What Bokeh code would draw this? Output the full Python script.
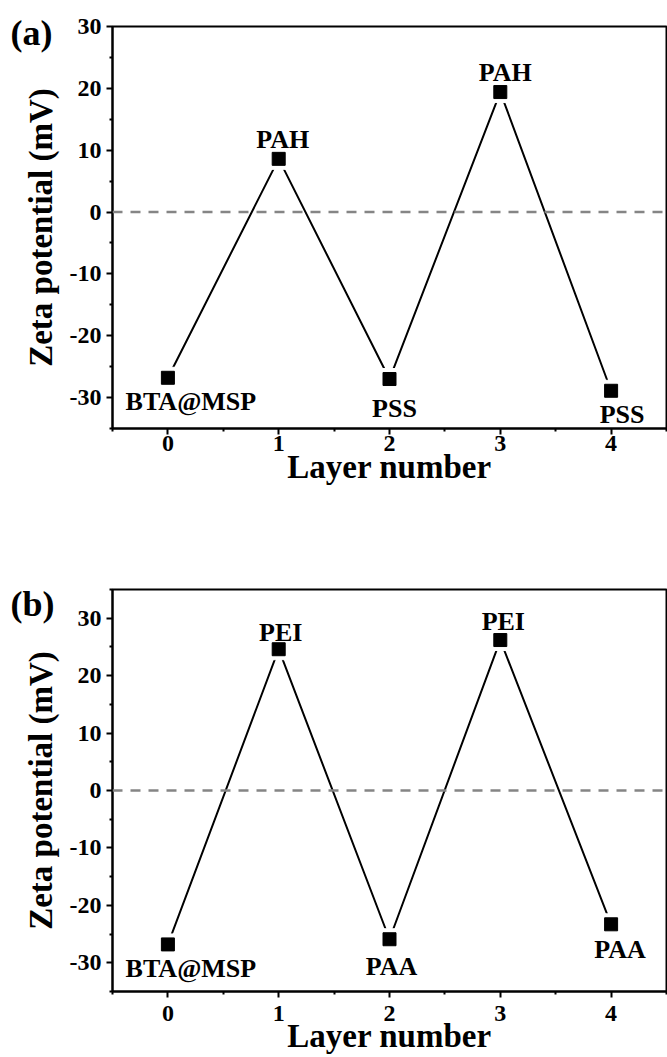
from bokeh.plotting import figure
from bokeh.layouts import column
from bokeh.models import (ColumnDataSource, Span, FixedTicker, Range1d,
                          PrintfTickFormatter, Title)
from bokeh.core.properties import value
from bokeh.embed import file_html
from bokeh.resources import INLINE

# ---------------- data ----------------
layers = [0, 1, 2, 3, 4]
zeta_a = [-26.8, 8.6, -27.0, 19.4, -28.9]
labels_a = ["BTA@MSP", "PAH", "PSS", "PAH", "PSS"]
zeta_b = [-26.8, 24.6, -25.9, 26.2, -23.3]
labels_b = ["BTA@MSP", "PEI", "PAA", "PEI", "PAA"]
x_ticks = [0, 1, 2, 3, 4]
x_minor = [-0.5, 0.5, 1.5, 2.5, 3.5, 4.5]
y_ticks = [-30, -20, -10, 0, 10, 20, 30]
y_minor = [-35, -25, -15, -5, 5, 15, 25, 35]

# label offsets (pixels, style only)
dx_a = [23, 4, 5, 5, 11]
dy_a = [24, -19, 29, -20, 24]
dx_b = [23, 2, 2, 3, 9]
dy_b = [24, -17, 27, -19, 25]

FONT = "Liberation Serif"


def make_panel(vals, labels, dx, dy, ymin, ymax, tag, height, btop, bbottom,
               xl_standoff, xt_standoff, tag_standoff):
    p = figure(width=667, height=height, output_backend="svg", toolbar_location=None,
               x_range=Range1d(-0.5, 4.5), y_range=Range1d(ymin, ymax),
               min_border_left=112, min_border_right=1,
               min_border_top=btop, min_border_bottom=bbottom)
    p.background_fill_color = "white"
    p.border_fill_color = "white"
    p.outline_line_color = "black"
    p.outline_line_width = 2
    p.xgrid.visible = False
    p.ygrid.visible = False

    for ax in (p.xaxis[0], p.yaxis[0]):
        ax.axis_line_width = 2
        ax.major_tick_line_width = 2
        ax.minor_tick_line_width = 2
        ax.major_tick_out = 6
        ax.major_tick_in = 0
        ax.minor_tick_out = 3
        ax.minor_tick_in = 0
        ax.major_label_text_font = FONT
        ax.major_label_text_font_style = "bold"
        ax.major_label_text_font_size = "24px"
        ax.major_label_text_color = "black"
        ax.axis_label_text_font = FONT
        ax.axis_label_text_font_style = "bold"
        ax.axis_label_text_font_size = "33px"
        ax.axis_label_text_color = "black"
        ax.formatter = PrintfTickFormatter(format="%d")

    p.xaxis.ticker = FixedTicker(ticks=x_ticks, minor_ticks=x_minor)
    p.yaxis.ticker = FixedTicker(ticks=y_ticks, minor_ticks=y_minor)
    p.xaxis.axis_label = "Layer number"
    p.yaxis.axis_label = "Zeta potential (mV)"
    p.xaxis.major_label_standoff = xl_standoff
    p.xaxis.axis_label_standoff = xt_standoff
    p.yaxis.major_label_standoff = 5
    p.yaxis.axis_label_standoff = 8

    p.add_layout(Span(location=0, dimension="width", line_color="#858585",
                      line_width=2.5, line_dash="10 8"))

    src = ColumnDataSource(dict(x=layers, y=vals, t=labels, dx=dx, dy=dy))
    p.line("x", "y", source=src, line_color="black", line_width=2)
    p.scatter("x", "y", source=src, marker="square", size=21,
              fill_color="white", line_color="white")
    p.scatter("x", "y", source=src, marker="square", size=13,
              fill_color="black", line_color="black")
    p.text("x", "y", text="t", source=src, x_offset="dx", y_offset="dy",
           text_align="center", text_baseline="middle",
           text_font=value(FONT), text_font_style="bold",
           text_font_size="26px", text_color="black")

    # panel tag "(a)" / "(b)" in the upper-left margin
    p.add_layout(Title(text=tag, align="left", offset=-102, standoff=tag_standoff,
                       text_font=FONT, text_font_style="bold",
                       text_font_size="36px", text_color="black"), "above")
    return p


p1 = make_panel(zeta_a, labels_a, dx_a, dy_a, -35, 30, "(a)", 529, 26, 101, 1, -5, -52)
p2 = make_panel(zeta_b, labels_b, dx_b, dy_b, -35, 35, "(b)", 528, 60, 66, 8, -6, -68)

layout = column(p1, p2, spacing=0)
open("out.html", "w").write(file_html(layout, INLINE))
